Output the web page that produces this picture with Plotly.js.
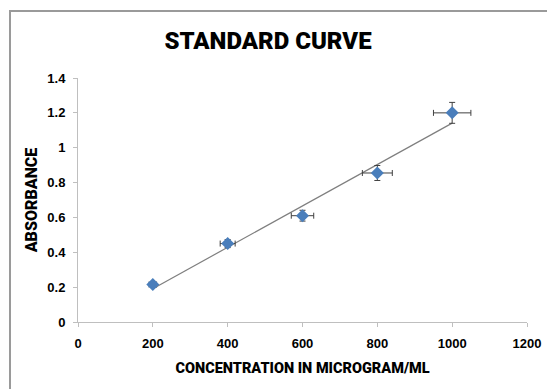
<!DOCTYPE html>
<html>
<head>
<meta charset="utf-8">
<script src="https://cdn.plot.ly/plotly-3.0.1.min.js"></script>
<style>
  html, body { margin: 0; padding: 0; background: #ffffff; }
  #wrap { position: relative; width: 547px; height: 389px; overflow: hidden; }
  #frame { position: absolute; left: 9px; top: 10px; width: 600px; height: 420px;
           border-left: 2px solid #9a9a9a; border-top: 2px solid #9a9a9a; }
  #chart { position: absolute; left: 0; top: 0; width: 547px; height: 389px; }
</style>
</head>
<body>
<div id="wrap">
  <div id="frame"></div>
  <div id="chart"></div>
</div>
<script>
const concentration = [200, 400, 600, 800, 1000];
const absorbance = [0.215, 0.45, 0.61, 0.855, 1.2];
const xError = [10, 20, 30, 40, 50];
const yError = [0.011, 0.023, 0.031, 0.043, 0.06];
const xTicks = [0, 200, 400, 600, 800, 1000, 1200];
const yTicks = [0, 0.2, 0.4, 0.6, 0.8, 1, 1.2, 1.4];

// linear trendline from least squares fit of the data
const n = concentration.length;
const mx = concentration.reduce((a, b) => a + b, 0) / n;
const my = absorbance.reduce((a, b) => a + b, 0) / n;
let sxy = 0, sxx = 0;
for (let i = 0; i < n; i++) {
  sxy += (concentration[i] - mx) * (absorbance[i] - my);
  sxx += (concentration[i] - mx) ** 2;
}
const slope = sxy / sxx;
const intercept = my - slope * mx;
const trendX = [concentration[0], concentration[n - 1]];
const trendY = trendX.map(x => intercept + slope * x);

const font = "Liberation Sans, Arial, sans-serif";
const heavy = "Roboto, Liberation Sans, Arial, sans-serif";

const traces = [
  {
    x: trendX, y: trendY, type: 'scatter', mode: 'lines',
    line: { color: '#7f7f7f', width: 1.2 }, hoverinfo: 'skip', showlegend: false
  },
  {
    x: concentration, y: absorbance, type: 'scatter', mode: 'markers',
    marker: { symbol: 'diamond', size: 10, color: '#4a7ebb' },
    error_x: { type: 'data', array: xError, visible: true, color: '#404040', thickness: 1, width: 3 },
    error_y: { type: 'data', array: yError, visible: true, color: '#404040', thickness: 1, width: 3 },
    showlegend: false
  }
];

const axisCommon = {
  showgrid: false, zeroline: false, showline: true,
  linecolor: '#bfbfbf', linewidth: 1,
  ticks: 'outside', ticklen: 4, tickcolor: '#bfbfbf', tickwidth: 1,
  tickfont: { family: font, size: 13, color: '#000000', weight: 'bold' }
};

const layout = {
  width: 547, height: 389,
  paper_bgcolor: 'rgba(0,0,0,0)', plot_bgcolor: 'rgba(0,0,0,0)',
  margin: { l: 78, r: 20, t: 78, b: 67 },
  title: {
    text: 'STANDARD CURVE',
    font: { family: heavy, size: 24, color: '#000000', weight: 900 },
    x: 0.49, xanchor: 'center', y: 0.895, yanchor: 'middle'
  },
  xaxis: Object.assign({}, axisCommon, {
    range: [0, 1200], tickvals: xTicks, ticktext: xTicks.map(String),
    ticklabelstandoff: 5,
    title: { text: 'CONCENTRATION IN MICROGRAM/ML', standoff: 13,
             font: { family: heavy, size: 14.5, color: '#000000', weight: 900 } }
  }),
  yaxis: Object.assign({}, axisCommon, {
    range: [0, 1.4], tickvals: yTicks, ticktext: yTicks.map(String),
    ticklabelstandoff: 5,
    title: { text: 'ABSORBANCE', standoff: 5,
             font: { family: heavy, size: 16, color: '#000000', weight: 900 } }
  })
};

Plotly.newPlot('chart', traces, layout, { displayModeBar: false, staticPlot: true });
</script>
</body>
</html>
